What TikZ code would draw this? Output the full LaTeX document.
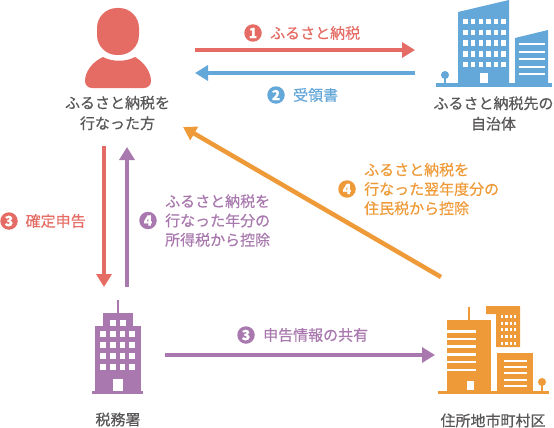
\documentclass[tikz,border=0pt]{standalone}
\usepackage{fontspec}
\setmainfont[RawFeature={embolden=0.5}]{Noto Sans CJK JP}
\usepackage{xcolor}
\usetikzlibrary{arrows.meta,positioning}
\definecolor{furusatoRed}{HTML}{E56C64}
\definecolor{receiptBlue}{HTML}{64A7D9}
\definecolor{taxPurple}{HTML}{A878AE}
\definecolor{cityOrange}{HTML}{EE9A38}
\definecolor{labelGray}{HTML}{595757}

\begin{document}
\begin{tikzpicture}[
    x=1pt, y=-1pt,
    iconbox/.style={rectangle, inner sep=0pt, outer sep=0pt},
    partylabel/.style={align=center, text=labelGray, font=\fontsize{15}{20.5}\selectfont, inner sep=0pt},
    numbadge/.style={circle, inner sep=0pt, minimum size=17.5pt, text=white, font=\fontsize{14}{14}\selectfont\bfseries},
    steplabel/.style={align=left, anchor=west, font=\fontsize{15}{19.3}\selectfont, inner sep=0pt},
    flowline/.style={line width=4.5pt, -{Triangle[length=13pt, width=15pt]}}
]
\useasboundingbox (0,0) rectangle (554,428);

% Icon frames
\node[iconbox, minimum width=66pt, minimum height=80pt] (person) at (118,48) {};
\node[iconbox, minimum width=116pt, minimum height=87pt] (localGov) at (494,43.5) {};
\node[iconbox, minimum width=51pt, minimum height=94pt] (taxOffice) at (117.5,347) {};
\node[iconbox, minimum width=111pt, minimum height=88pt] (cityHall) at (493.5,350) {};

% Person
\fill[furusatoRed, rounded corners=20pt] (97,8) rectangle (139,55);
\fill[furusatoRed] (103,57) .. controls (112,62) and (126,62) .. (135,57)
    .. controls (144,62) and (151,72) .. (151,81) .. controls (151,85) and (148,88) .. (144,88)
    -- (92,88) .. controls (88,88) and (85,85) .. (85,81) .. controls (85,72) and (92,62) .. (103,57) -- cycle;

% Local government building
\fill[receiptBlue] (436,83) rectangle (552,87);
\fill[receiptBlue] (458,12) -- (509,0) -- (509,83) -- (458,83) -- cycle;
\fill[receiptBlue] (515,38) -- (548,30) -- (548,83) -- (515,83) -- cycle;
\foreach \col in {0,...,5}
    \foreach \row in {0,...,4}
        \fill[white] (463.3+\col*7.6,19+\row*10.7) rectangle +(4.5,5.5);
\fill[white] (480,73) rectangle (488,83);
\foreach \ypos in {43,50.6,58.2,65.8,73.4}
    \fill[white] (519,\ypos) rectangle (545,\ypos+2);
\fill[receiptBlue] (444.3,75) rectangle (445.7,83);
\fill[receiptBlue] (445,75) circle (4);

% Tax office
\fill[taxPurple] (92,391) rectangle (143,394);
\fill[taxPurple] (95,326) rectangle (141,391);
\fill[taxPurple] (103,313) rectangle (133,326);
\fill[taxPurple] (117,300) rectangle (119,313);
\foreach \col in {110,120}
    \fill[white] (\col,320) rectangle +(5.7,6);
\foreach \col in {100.3,110,119.7,129.3}
    \foreach \ypos in {331,342,353,364}
        \fill[white] (\col,\ypos) rectangle +(5.7,6.3);
\fill[white] (113,379) rectangle (123,391);

% City hall
\fill[cityOrange] (438,391) rectangle (549,394);
\fill[cityOrange] (447,320) rectangle (491,391);
\fill[cityOrange] (468,307) rectangle (470,320);
\foreach \ypos in {330,337.7,345.4,353,360.8,368.5}
    \fill[white] (447,\ypos) rectangle (476,\ypos+2.5);
\fill[white] (467,381) rectangle (474,390);
\fill[cityOrange] (486,306) -- (520,306) -- (520,347) -- (496,347) -- (496,314) -- (486,314) -- cycle;
\foreach \col in {500.7,505.1,509.5,514}
    \foreach \ypos in {315,321.7,328.4,335,341.7}
        \fill[white] (\col,\ypos) rectangle +(2.4,2.8);
\fill[cityOrange] (497,353) rectangle (533,391);
\foreach \ypos in {359.7,365.9,372.2,378.5,384.7}
    \fill[white] (504,\ypos) rectangle (527,\ypos+2);
\fill[cityOrange] (541.3,382) rectangle (542.7,391);
\fill[cityOrange] (542,382) circle (4);

% Party labels
\node[partylabel] (personLabel) at (117.5,113) {ふるさと納税を\\行なった方};
\node[partylabel] (localGovLabel) at (493.5,113.5) {ふるさと納税先の\\自治体};
\node[partylabel] (taxOfficeLabel) at (118,419.5) {税務署};
\node[partylabel] (cityHallLabel) at (493,420.5) {住所地市町村区};

% Connections
\draw[flowline, furusatoRed] ([shift={(44,2)}]person.east) -- ([shift={(-21,6.5)}]localGov.west);
\draw[flowline, receiptBlue] ([shift={(-21,29.5)}]localGov.west) -- ([shift={(44,25)}]person.east);
\draw[flowline, furusatoRed] ([shift={(-14,58)}]person.south) -- ([shift={(-13.5,-13)}]taxOffice.north);
\draw[flowline, taxPurple] ([shift={(9.5,-13)}]taxOffice.north) -- ([shift={(9,59)}]person.south);
\draw[flowline, cityOrange] ([shift={(-52.5,-29)}]cityHall.north) -- ([shift={(32,79)}]person.east);
\draw[flowline, taxPurple] ([shift={(22,8)}]taxOffice.east) -- ([shift={(-3,5)}]cityHall.west);

% Step labels
\node[numbadge, fill=furusatoRed] (badgeA) at (253,33) {1};
\node[steplabel, text=furusatoRed, right=8pt of badgeA] (payLabel) {ふるさと納税};
\node[numbadge, fill=receiptBlue] (badgeB) at (276,95) {2};
\node[steplabel, text=receiptBlue, right=8pt of badgeB] (receiptLabel) {受領書};
\node[numbadge, fill=furusatoRed] (badgeC) at (9,221) {3};
\node[steplabel, text=furusatoRed, right=7.5pt of badgeC] (filingLabel) {確定申告};
\node[numbadge, fill=taxPurple] (badgeD) at (148,220.5) {4};
\node[steplabel, text=taxPurple, right=8pt of badgeD] (incomeLabel) {ふるさと納税を\\行なった年分の\\所得税から控除};
\node[numbadge, fill=cityOrange] (badgeE) at (347,189) {4};
\node[steplabel, text=cityOrange, right=8pt of badgeE] (residentLabel) {ふるさと納税を\\行なった翌年度分の\\住民税から控除};
\node[numbadge, fill=taxPurple] (badgeF) at (246,335) {3};
\node[steplabel, text=taxPurple, right=8pt of badgeF] (shareLabel) {申告情報の共有};

\end{tikzpicture}
\end{document}
